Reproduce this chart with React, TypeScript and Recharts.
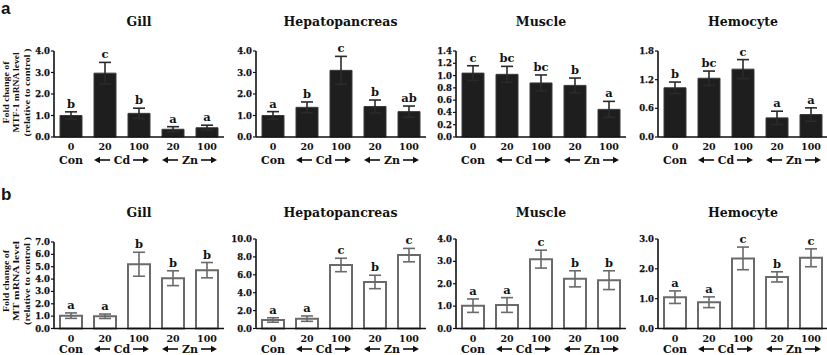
import React from 'react';
import { BarChart, Bar, XAxis, YAxis, ErrorBar, LabelList } from 'recharts';

// x categories (dose, µM) and their treatment groups
const doses = ['0', '20', '100', '20', '100'];
const tissues = ['Gill', 'Hepatopancreas', 'Muscle', 'Hemocyte'];

// (a) MTF-1 mRNA, fold change
const mtfGill = [1.0, 2.97, 1.1, 0.36, 0.43];
const mtfGillErr = [0.17, 0.5, 0.24, 0.12, 0.12];
const mtfGillSig = ['b', 'c', 'b', 'a', 'a'];
const mtfHepato = [1.0, 1.38, 3.1, 1.42, 1.18];
const mtfHepatoErr = [0.18, 0.25, 0.65, 0.3, 0.26];
const mtfHepatoSig = ['a', 'b', 'c', 'b', 'ab'];
const mtfMuscle = [1.04, 1.02, 0.88, 0.84, 0.45];
const mtfMuscleErr = [0.12, 0.13, 0.13, 0.12, 0.13];
const mtfMuscleSig = ['c', 'bc', 'bc', 'b', 'a'];
const mtfHemo = [1.03, 1.23, 1.42, 0.4, 0.47];
const mtfHemoErr = [0.12, 0.15, 0.2, 0.14, 0.14];
const mtfHemoSig = ['b', 'bc', 'c', 'a', 'a'];

// (b) MT mRNA, fold change
const mtGill = [1.04, 0.99, 5.2, 4.07, 4.72];
const mtGillErr = [0.22, 0.18, 0.97, 0.6, 0.62];
const mtGillSig = ['a', 'a', 'b', 'b', 'b'];
const mtHepato = [0.95, 1.1, 7.1, 5.2, 8.2];
const mtHepatoErr = [0.25, 0.3, 0.75, 0.75, 0.75];
const mtHepatoSig = ['a', 'a', 'c', 'b', 'c'];
const mtMuscle = [1.02, 1.05, 3.1, 2.22, 2.16];
const mtMuscleErr = [0.3, 0.33, 0.4, 0.36, 0.42];
const mtMuscleSig = ['a', 'a', 'c', 'b', 'b'];
const mtHemo = [1.05, 0.88, 2.35, 1.73, 2.37];
const mtHemoErr = [0.21, 0.18, 0.38, 0.17, 0.3];
const mtHemoSig = ['a', 'a', 'c', 'b', 'c'];

// y tick labels
const mtfGillTicks = [0, 1, 2, 3, 4];
const mtfHepatoTicks = [0, 1, 2, 3, 4];
const mtfMuscleTicks = [0, 0.2, 0.4, 0.6, 0.8, 1.0, 1.2, 1.4];
const mtfHemoTicks = [0, 0.6, 1.2, 1.8];
const mtGillTicks = [0, 1, 2, 3, 4, 5, 6, 7];
const mtHepatoTicks = [0, 2, 4, 6, 8, 10];
const mtMuscleTicks = [0, 1, 2, 3, 4];
const mtHemoTicks = [0, 1, 2, 3];

const FONT = '"DejaVu Serif", serif';
const axisX = [54, 255.5, 456, 658];
const PLOT_W = 170;

const Arrow = ({ x1, x2, y }: { x1: number; x2: number; y: number }) => {
  const dir = x2 > x1 ? 1 : -1;
  return (
    <g>
      <line x1={x1} y1={y} x2={x2 - dir * 4} y2={y} stroke="#111" strokeWidth={1.6} />
      <path d={`M${x2},${y} L${x2 - dir * 6},${y - 3.2} L${x2 - dir * 6},${y + 3.2} Z`} fill="#111" />
    </g>
  );
};

const makeDoseTick = (groupDy: number) => (props: any) => {
  const { x, y, payload, index } = props;
  const band = (props.width || PLOT_W) / doses.length;
  const i = Number(payload.value);
  const gy = y + groupDy;
  let group = null;
  if (index === 0) {
    group = (
      <text x={x} y={gy} textAnchor="middle" fontSize={11} fontWeight="bold" fontFamily={FONT} fill="#111">
        Con
      </text>
    );
  } else if (index === 1 || index === 3) {
    const c = x + band / 2;
    group = (
      <g>
        <Arrow x1={c - 12} x2={c - 28} y={gy - 4} />
        <text x={c} y={gy} textAnchor="middle" fontSize={11} fontWeight="bold" fontFamily={FONT} fill="#111">
          {index === 1 ? 'Cd' : 'Zn'}
        </text>
        <Arrow x1={c + 11} x2={c + 27} y={gy - 4} />
      </g>
    );
  }
  return (
    <g>
      <text x={x} y={y + 13} textAnchor="middle" fontSize={9.5} fontWeight="bold" fontFamily={FONT} fill="#111">
        {doses[i]}
      </text>
      {group}
    </g>
  );
};

const tickRowA = makeDoseTick(27);
const tickRowB = makeDoseTick(24.5);

interface PanelProps {
  col: number;
  plotTop: number;
  plotBottom: number;
  values: number[];
  errs: number[];
  sigs: string[];
  ticks: number[];
  dark: boolean;
}

const Panel = ({ col, plotTop, plotBottom, values, errs, sigs, ticks, dark }: PanelProps) => {
  const data = doses.map((d, i) => ({ key: i, value: values[i], err: errs[i], sig: sigs[i] }));
  const yw = 40;
  const topPad = 14;
  const xh = 30;
  const chartTop = plotTop - topPad;
  const height = plotBottom - chartTop + xh;

  const SigLabel = (p: any) => {
    const vb = p.viewBox || p;
    const idx = p.index;
    const bx = Number(vb.x);
    const by = Number(vb.y);
    const bw = Number(vb.width);
    const bh = Number(vb.height);
    const perUnit = bh / values[idx];
    const errTop = by - errs[idx] * perUnit;
    return (
      <text x={bx + bw / 2} y={errTop - 4} textAnchor="middle" fontSize={11.5} fontWeight="bold" fontFamily={FONT} fill="#111">
        {sigs[idx]}
      </text>
    );
  };

  const DoseTick = dark ? tickRowA : tickRowB;

  return (
    <div style={{ position: 'absolute', left: axisX[col] - yw, top: chartTop }}>
      <BarChart
        width={yw + PLOT_W + 2}
        height={height}
        data={data}
        margin={{ top: topPad, right: 2, bottom: 0, left: 0 }}
        barSize={22}
      >
        <XAxis
          dataKey="key"
          type="category"
          interval={0}
          height={xh}
          axisLine={{ stroke: '#111', strokeWidth: 1.6 }}
          tickLine={false}
          tickSize={0}
          tickMargin={0}
          tick={DoseTick}
        />
        <YAxis
          width={yw}
          type="number"
          domain={[0, ticks[ticks.length - 1]]}
          ticks={ticks}
          interval={0}
          tickFormatter={(v: number) => v.toFixed(1)}
          axisLine={{ stroke: '#111', strokeWidth: 1.6 }}
          tickLine={{ stroke: '#111', strokeWidth: 1.2 }}
          tickSize={3}
          tickMargin={1}
          tick={{ fontSize: 8.5, fontWeight: 'bold', fontFamily: FONT, fill: '#111', stroke: '#111', strokeWidth: 0.25 }}
        />
        <Bar
          dataKey="value"
          fill={dark ? '#1e1e1e' : '#ffffff'}
          stroke={dark ? '#3a3a3a' : '#6a6a6a'}
          strokeWidth={dark ? 1 : 2}
          isAnimationActive={false}
        >
          <ErrorBar
            dataKey="err"
            width={6}
            stroke={dark ? '#2a2a2a' : '#6a6a6a'}
            strokeWidth={1.6}
            isAnimationActive={false}
          />
          <LabelList dataKey="sig" content={SigLabel} />
        </Bar>
      </BarChart>
    </div>
  );
};

const YLabel = ({ cy, lines }: { cy: number; lines: string[] }) => (
  <g>
    {lines.map((t, i) => {
      const x = 8.5 + i * 10.5;
      return (
        <text
          key={i}
          x={x}
          y={cy}
          transform={`rotate(-90 ${x} ${cy})`}
          textAnchor="middle"
          fontSize={9}
          fontWeight="bold"
          fontFamily='"Liberation Serif", serif'
          fill="#111"
          textLength={i === 0 ? 62 : i === 1 ? 80 : 88}
          lengthAdjust="spacingAndGlyphs"
        >
          {t}
        </text>
      );
    })}
  </g>
);

export default function App() {
  const rowA = { top: 51, bottom: 137 };
  const rowB = { top: 239, bottom: 328.5 };
  return (
    <div style={{ position: 'fixed', left: 0, top: 0, width: 827, height: 355, background: '#fff', overflow: 'hidden' }}>
      <svg width={827} height={355} style={{ position: 'absolute', left: 0, top: 0 }}>
        <text x={1} y={14} fontSize={17} fontWeight="bold" fontFamily='"Liberation Sans", sans-serif' fill="#111">a</text>
        <text x={1} y={200} fontSize={17} fontWeight="bold" fontFamily='"Liberation Sans", sans-serif' fill="#111">b</text>
        {tissues.map((t, i) => (
          <text key={'a' + t} x={axisX[i] + PLOT_W / 2} y={26} textAnchor="middle" fontSize={12.5} fontWeight="bold" fontFamily={FONT} fill="#111">
            {t}
          </text>
        ))}
        {tissues.map((t, i) => (
          <text key={'b' + t} x={axisX[i] + PLOT_W / 2} y={217} textAnchor="middle" fontSize={12.5} fontWeight="bold" fontFamily={FONT} fill="#111">
            {t}
          </text>
        ))}
        <YLabel cy={92.5} lines={['Fold change of', 'MTF-1 mRNA level', '(relative to control )']} />
        <YLabel cy={281} lines={['Fold change of', 'MT mRNA level', '(relative to control )']} />
      </svg>

      <Panel col={0} plotTop={rowA.top} plotBottom={rowA.bottom} values={mtfGill} errs={mtfGillErr} sigs={mtfGillSig} ticks={mtfGillTicks} dark />
      <Panel col={1} plotTop={rowA.top} plotBottom={rowA.bottom} values={mtfHepato} errs={mtfHepatoErr} sigs={mtfHepatoSig} ticks={mtfHepatoTicks} dark />
      <Panel col={2} plotTop={rowA.top} plotBottom={rowA.bottom} values={mtfMuscle} errs={mtfMuscleErr} sigs={mtfMuscleSig} ticks={mtfMuscleTicks} dark />
      <Panel col={3} plotTop={rowA.top} plotBottom={rowA.bottom} values={mtfHemo} errs={mtfHemoErr} sigs={mtfHemoSig} ticks={mtfHemoTicks} dark />

      <Panel col={0} plotTop={242} plotBottom={rowB.bottom} values={mtGill} errs={mtGillErr} sigs={mtGillSig} ticks={mtGillTicks} dark={false} />
      <Panel col={1} plotTop={rowB.top} plotBottom={rowB.bottom} values={mtHepato} errs={mtHepatoErr} sigs={mtHepatoSig} ticks={mtHepatoTicks} dark={false} />
      <Panel col={2} plotTop={rowB.top} plotBottom={rowB.bottom} values={mtMuscle} errs={mtMuscleErr} sigs={mtMuscleSig} ticks={mtMuscleTicks} dark={false} />
      <Panel col={3} plotTop={rowB.top} plotBottom={rowB.bottom} values={mtHemo} errs={mtHemoErr} sigs={mtHemoSig} ticks={mtHemoTicks} dark={false} />
    </div>
  );
}
